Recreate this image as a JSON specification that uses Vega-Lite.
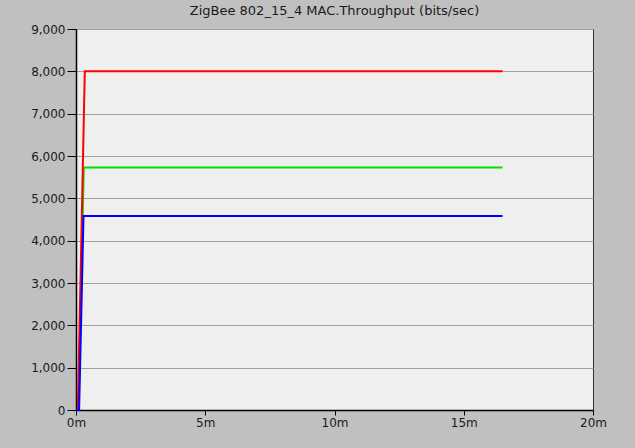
{
  "$schema": "https://vega.github.io/schema/vega-lite/v6.json",
  "width": 517,
  "height": 381,
  "autosize": {"type": "none"},
  "padding": {"left": 76, "top": 29, "right": 42, "bottom": 38},
  "background": "#c0c0c0",
  "title": {
    "text": "ZigBee 802_15_4 MAC.Throughput (bits/sec)",
    "font": "DejaVu Sans",
    "fontSize": 13,
    "fontWeight": "normal",
    "color": "#1a1a1a",
    "anchor": "middle",
    "offset": 5
  },
  "config": {
    "view": {"stroke": "#303030", "strokeWidth": 1, "fill": "#efefef"},
    "axis": {
      "labelFont": "DejaVu Sans",
      "labelFontSize": 12,
      "labelColor": "#1a1a1a",
      "domainColor": "#000000",
      "tickColor": "#000000",
      "labelFlush": false,
      "title": null
    }
  },
  "data": {
    "values": [
      {"series": "green", "t": 0.1, "v": 0},
      {"series": "green", "t": 0.3, "v": 5730},
      {"series": "green", "t": 16.5, "v": 5730},
      {"series": "red", "t": 0.07, "v": 0},
      {"series": "red", "t": 0.34, "v": 8000},
      {"series": "red", "t": 16.5, "v": 8000},
      {"series": "blue", "t": 0, "v": 0},
      {"series": "blue", "t": 0.12, "v": 0},
      {"series": "blue", "t": 0.29, "v": 4580},
      {"series": "blue", "t": 16.5, "v": 4580}
    ]
  },
  "encoding": {
    "x": {
      "field": "t", "type": "quantitative",
      "scale": {"domain": [0, 20], "nice": false},
      "axis": {"values": [0, 5, 10, 15, 20], "labelExpr": "datum.value + 'm'", "grid": false, "tickSize": 5, "labelPadding": 2, "domainWidth": 1.5}
    },
    "y": {
      "field": "v", "type": "quantitative",
      "scale": {"domain": [0, 9000], "nice": false},
      "axis": {"values": [0, 1000, 2000, 3000, 4000, 5000, 6000, 7000, 8000, 9000], "format": ",.0f", "grid": true, "gridColor": "#a0a0a0", "gridWidth": 1, "gridOpacity": 1, "tickSize": 9, "labelPadding": 2, "domainWidth": 1.5}
    }
  },
  "layer": [
    {"transform": [{"filter": "datum.series == 'green'"}], "mark": {"type": "line", "color": "#00e000", "strokeWidth": 2}},
    {"transform": [{"filter": "datum.series == 'red'"}], "mark": {"type": "line", "color": "#ff0000", "strokeWidth": 2}},
    {"transform": [{"filter": "datum.series == 'blue'"}], "mark": {"type": "line", "color": "#0000ff", "strokeWidth": 2}}
  ]
}
